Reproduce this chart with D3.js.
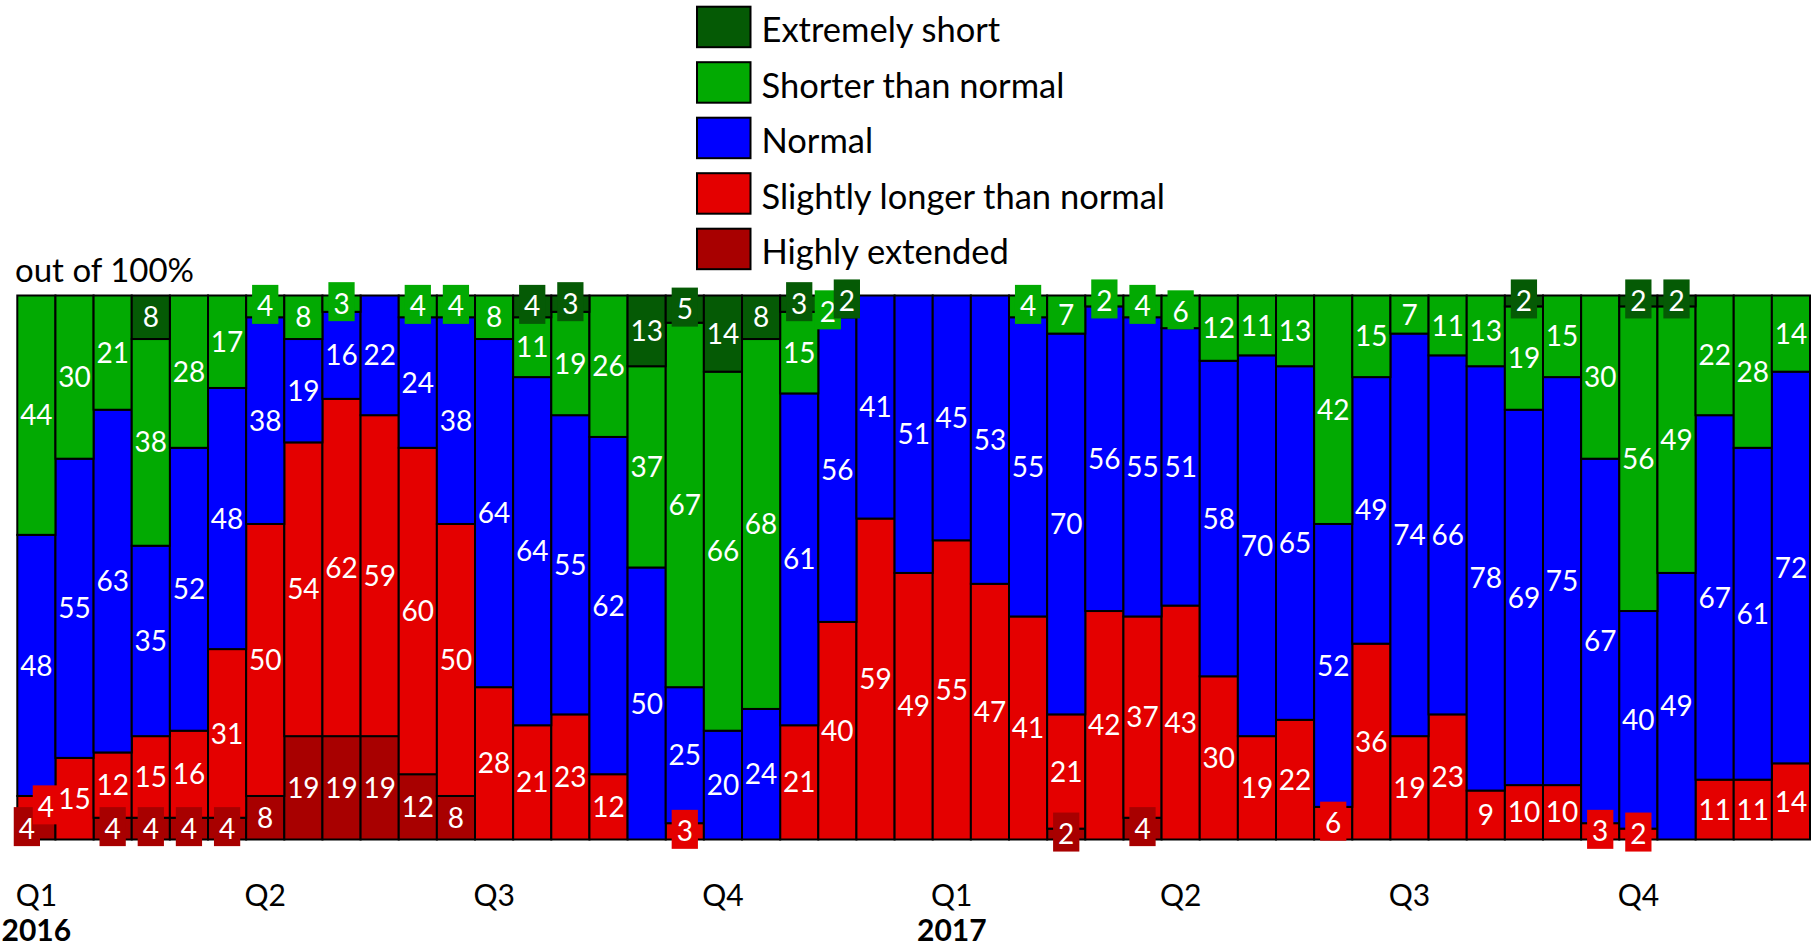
<!DOCTYPE html>
<html>
<head>
<meta charset="utf-8">
<script src="https://cdn.jsdelivr.net/npm/d3@7"></script>
<style>
  html, body { margin: 0; padding: 0; background: #ffffff; }
  svg { display: block; }
  text { font-family: Lato, "Open Sans", sans-serif; }
</style>
</head>
<body>
<svg id="chart" width="1816" height="949"></svg>
<script>
// ---------------- DATA ----------------
const periods = d3.range(1, 48); // 47 consecutive survey periods, 2016-2017

const extremelyShort = [0,0,0,8,0,0,0,0, 0,0,0,0,0,4,3,0, 13,5,14,8,3,2,0,0, 0,0,0,0,0,0,0,0, 0,0,0,0,0,0,0,2, 0,0,2,2,0,0,0];
const shorterThanNormal = [44,30,21,38,28,17,4,8, 3,0,4,4,8,11,19,26, 37,67,66,68,15,2,0,0, 0,0,4,7,2,4,6,12, 11,13,42,15,7,11,13,19, 15,30,56,49,22,28,14];
const normal = [48,55,63,35,52,48,38,19, 16,22,24,38,64,64,55,62, 50,25,20,24,61,56,41,51, 45,53,55,70,56,55,51,58, 70,65,52,49,74,66,78,69, 75,67,40,49,67,61,72];
const slightlyLonger = [4,15,12,15,16,31,50,54, 62,59,60,50,28,21,23,12, 0,3,0,0,21,40,59,49, 55,47,41,21,42,37,43,30, 19,22,6,36,19,23,9,10, 10,3,2,0,11,11,14];
const highlyExtended = [4,0,4,4,4,4,8,19, 19,19,12,8,0,0,0,0, 0,0,0,0,0,0,0,0, 0,0,0,2,0,4,0,0, 0,0,0,0,0,0,0,0, 0,0,0,0,0,0,0];

const seriesNames = ["Extremely short", "Shorter than normal", "Normal", "Slightly longer than normal", "Highly extended"];
const seriesColors = ["#055a05", "#02aa02", "#0000ff", "#e40000", "#a80000"];

const quarterTickIndex = [0, 6, 12, 18, 24, 30, 36, 42];
const quarterTickLabels = ["Q1", "Q2", "Q3", "Q4", "Q1", "Q2", "Q3", "Q4"];
const yearTickIndex = [0, 24];
const yearTickLabels = ["2016", "2017"];
const unitLabel = "out of 100%";

// ---------------- BUILD ----------------
const keys = ["he", "sl", "no", "sh", "es"]; // bottom -> top
const keyColor = { es: seriesColors[0], sh: seriesColors[1], no: seriesColors[2], sl: seriesColors[3], he: seriesColors[4] };

const rows = periods.map((p, i) => ({
  period: i,
  es: extremelyShort[i], sh: shorterThanNormal[i], no: normal[i],
  sl: slightlyLonger[i], he: highlyExtended[i]
}));

const svg = d3.select("#chart");
const plotLeft = 17.3, plotRight = 1810, plotTop = 295.5, plotBottom = 839.5;

const x = d3.scaleBand().domain(d3.range(periods.length)).range([plotLeft, plotRight]).padding(0);
const y = d3.scaleLinear().domain([0, 100]).range([plotBottom, plotTop]);

const stacked = d3.stack().keys(keys)(rows);

// Bars
const gBars = svg.append("g");
stacked.forEach(layer => {
  gBars.append("g")
    .selectAll("rect")
    .data(layer.filter(d => d[1] - d[0] > 0))
    .join("rect")
    .attr("x", d => x(d.data.period))
    .attr("y", d => y(d[1]))
    .attr("width", x.bandwidth())
    .attr("height", d => y(d[0]) - y(d[1]))
    .attr("fill", keyColor[layer.key])
    .attr("stroke", "#000")
    .attr("stroke-width", 2);
});

// Value labels
const FS = 28;
const boxH = 39;
const labels = [];
periods.forEach((p, i) => {
  const perBar = [];
  stacked.forEach(layer => {
    const d = layer[i];
    const v = d[1] - d[0];
    if (v <= 0) return;
    const h = y(d[0]) - y(d[1]);
    perBar.push({ key: layer.key, value: v, cx: x(i) + x.bandwidth() / 2, cy: (y(d[0]) + y(d[1])) / 2, boxed: h < boxH - 2, dx: 0 });
  });
  for (let k = 1; k < perBar.length; k++) {
    const a = perBar[k - 1], b = perBar[k];
    if (a.boxed && b.boxed && Math.abs(a.cy - b.cy) < boxH) { a.dx = -9.5; b.dx = 9.5; }
  }
  labels.push(...perBar);
});

const gLabels = svg.append("g");
keys.forEach(k => {
  labels.filter(l => l.key === k).forEach(l => {
    const g = gLabels.append("g");
    const t = g.append("text")
      .attr("x", l.cx + l.dx)
      .attr("y", l.cy + FS * 0.36)
      .attr("text-anchor", "middle")
      .attr("font-size", FS)
      .attr("fill", "#fff")
      .text(l.value);
    if (l.boxed) {
      const w = t.node().getComputedTextLength() + 10;
      g.insert("rect", "text")
        .attr("x", l.cx + l.dx - w / 2)
        .attr("y", l.cy - boxH / 2 - 2)
        .attr("width", w)
        .attr("height", boxH)
        .attr("fill", keyColor[k]);
    }
  });
});

// X axis: quarters
const xAxis = d3.axisBottom(x)
  .tickValues(quarterTickIndex)
  .tickFormat((d, i) => quarterTickLabels[i])
  .tickSize(0);
const gx = svg.append("g").attr("transform", `translate(0,${plotBottom})`).call(xAxis);
gx.select(".domain").remove();
gx.selectAll("text")
  .attr("y", 906 - plotBottom).attr("dy", null)
  .attr("font-family", "Lato, sans-serif").attr("font-size", 30).attr("fill", "#000");

// Years
const xAxisYears = d3.axisBottom(x)
  .tickValues(yearTickIndex)
  .tickFormat((d, i) => yearTickLabels[i])
  .tickSize(0);
const gy = svg.append("g").attr("transform", `translate(0,${plotBottom})`).call(xAxisYears);
gy.select(".domain").remove();
gy.selectAll("text")
  .attr("y", 941 - plotBottom).attr("dy", null)
  .attr("font-family", "Lato, sans-serif").attr("font-size", 30).attr("font-weight", "bold").attr("fill", "#000");

// Unit label
svg.append("text").attr("x", 15).attr("y", 282).attr("font-size", 33).attr("fill", "#000").text(unitLabel);

// Legend
const legend = svg.append("g");
seriesNames.forEach((name, i) => {
  const ty = 6.7 + i * 55.5;
  legend.append("rect").attr("x", 697).attr("y", ty).attr("width", 53.5).attr("height", 40.5)
    .attr("fill", seriesColors[i]).attr("stroke", "#000").attr("stroke-width", 2);
  legend.append("text").attr("x", 761.5).attr("y", ty + 35.5).attr("font-size", 34.5).attr("fill", "#000").text(name);
});
</script>
</body>
</html>
